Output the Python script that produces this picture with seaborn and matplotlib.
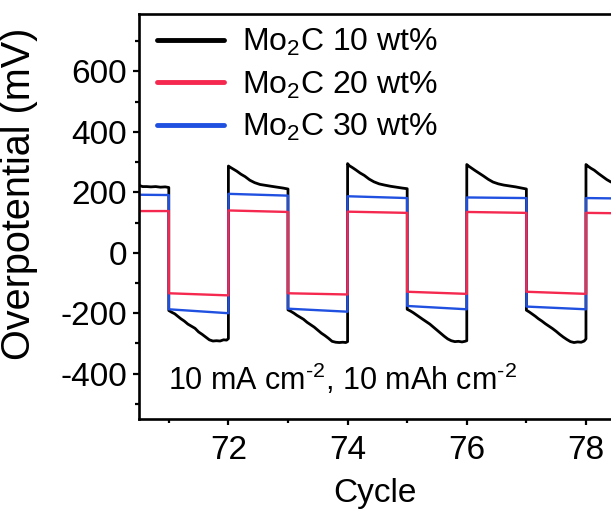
import matplotlib
matplotlib.use("Agg")
import matplotlib.pyplot as plt
import seaborn as sns
import pandas as pd

# ---------------- data ----------------
black_x = [70.50, 70.56, 70.63, 70.70, 70.78, 70.86, 70.94, 71.00,
           71.00, 71.05, 71.10, 71.15, 71.20, 71.26, 71.32, 71.38, 71.44, 71.50, 71.56, 71.62, 71.68, 71.74, 71.80, 71.86, 71.92, 71.97, 72.00,
           72.00, 72.03, 72.08, 72.14, 72.21, 72.28, 72.36, 72.44, 72.53, 72.62, 72.72, 72.82, 72.92, 73.00,
           73.00, 73.05, 73.10, 73.15, 73.20, 73.26, 73.32, 73.38, 73.44, 73.50, 73.56, 73.62, 73.68, 73.74, 73.80, 73.86, 73.92, 73.97, 74.00,
           74.00, 74.03, 74.08, 74.14, 74.21, 74.28, 74.36, 74.44, 74.53, 74.62, 74.72, 74.82, 74.92, 75.00,
           75.00, 75.05, 75.10, 75.15, 75.20, 75.26, 75.32, 75.38, 75.44, 75.50, 75.56, 75.62, 75.68, 75.74, 75.80, 75.86, 75.92, 75.97, 76.00,
           76.00, 76.03, 76.08, 76.14, 76.21, 76.28, 76.36, 76.44, 76.53, 76.62, 76.72, 76.82, 76.92, 77.00,
           77.00, 77.05, 77.10, 77.15, 77.20, 77.26, 77.32, 77.38, 77.44, 77.50, 77.56, 77.62, 77.68, 77.74, 77.80, 77.86, 77.92, 77.97, 78.00,
           78.00, 78.03, 78.08, 78.14, 78.21, 78.28, 78.35, 78.42]
black_y = [223, 219, 219, 218, 219, 217, 218, 216,
           -191, -197, -202, -210, -218, -226, -236, -243, -250, -262, -270, -279, -288, -292, -291, -292, -288, -289, -284,
           287, 283, 277, 270, 260, 252, 240, 232, 226, 223, 220, 217, 214, 211,
           -189, -194, -200, -207, -213, -220, -230, -238, -246, -256, -266, -274, -283, -293, -296, -297, -296, -297, -294,
           295, 288, 282, 274, 264, 256, 244, 235, 228, 224, 220, 217, 214, 212,
           -187, -192, -198, -205, -212, -220, -228, -236, -246, -256, -266, -276, -285, -291, -294, -293, -295, -293, -291,
           292, 287, 280, 272, 263, 254, 243, 234, 228, 224, 221, 218, 214, 211,
           -190, -196, -203, -210, -218, -226, -235, -243, -251, -260, -270, -279, -287, -294, -297, -295, -296, -292, -285,
           292, 287, 280, 273, 262, 252, 242, 234]

step_x = [70.5, 71.0, 71.0, 72.0, 72.0, 73.0, 73.0, 74.0, 74.0, 75.0,
          75.0, 76.0, 76.0, 77.0, 77.0, 78.0, 78.0, 78.42]
blue_y = [192, 191, -187, -200, 195, 189, -185, -195, 187, 181,
          -176, -187, 183, 181, -178, -187, 181, 180]
red_y = [138, 138, -134, -141, 140, 135, -134, -138, 136, 132,
         -129, -136, 135, 132, -129, -136, 132, 131]

labels = ["Mo$_2$C 10 wt%", "Mo$_2$C 20 wt%", "Mo$_2$C 30 wt%"]
colors = ["#000000", "#f5284f", "#2050e0"]
x_ticks = [72, 74, 76, 78]
y_ticks = [-400, -200, 0, 200, 400, 600]

# ---------------- style ----------------
sns.set_theme(style="ticks")
plt.rcParams["font.family"] = ["Liberation Sans", "DejaVu Sans"]
plt.rcParams["mathtext.fontset"] = "custom"
plt.rcParams["mathtext.rm"] = "Liberation Sans"
plt.rcParams["mathtext.it"] = "Liberation Sans:italic"
plt.rcParams["axes.unicode_minus"] = False
plt.rcParams["text.color"] = "black"
plt.rcParams["axes.labelcolor"] = "black"
plt.rcParams["xtick.color"] = "black"
plt.rcParams["ytick.color"] = "black"

fig = plt.figure(figsize=(6.11, 5.14), dpi=100)
ax = fig.add_axes([139 / 611, 95 / 514, 1 - 139 / 611, (419 - 14) / 514])

df_k = pd.DataFrame({"x": black_x, "y": black_y})
df_b = pd.DataFrame({"x": step_x, "y": blue_y})
df_r = pd.DataFrame({"x": step_x, "y": red_y})

sns.lineplot(data=df_k, x="x", y="y", sort=False, estimator=None, color=colors[0],
             lw=2.0, ax=ax, label=labels[0])
sns.lineplot(data=df_b, x="x", y="y", sort=False, estimator=None, color=colors[2],
             lw=1.7, ax=ax, label=labels[2])
sns.lineplot(data=df_r, x="x", y="y", sort=False, estimator=None, color=colors[1],
             lw=1.7, ax=ax, label=labels[1])

ax.set_xlim(70.5, 78.42)
ax.set_ylim(-550, 790)
ax.set_xticks(x_ticks)
ax.set_xticklabels([str(t) for t in x_ticks])
ax.set_yticks(y_ticks)
ax.set_yticklabels([str(t) for t in y_ticks])
ax.set_xticks([71, 73, 75, 77], minor=True)
ax.set_yticks([-500, -300, -100, 100, 300, 500, 700], minor=True)

for s in ["left", "bottom", "top"]:
    ax.spines[s].set_linewidth(1.9)
    ax.spines[s].set_color("black")
ax.spines["right"].set_visible(False)

ax.tick_params(which="major", direction="out", length=4.5, width=1.6,
               labelsize=24, color="black", labelcolor="black", pad=4)
ax.tick_params(which="minor", direction="out", length=3.2, width=1.6, color="black")
ax.tick_params(axis="x", which="major", pad=7)

ax.set_xlabel("Cycle", fontsize=24, labelpad=9, color="black")
ax.set_ylabel("Overpotential (mV)", fontsize=28.5, color="black")
ax.yaxis.set_label_coords(-0.213, 0.556)

h, l = ax.get_legend_handles_labels()
order = [0, 2, 1]
leg = ax.legend([h[i] for i in order], [l[i] for i in order],
                loc="upper left", bbox_to_anchor=(157 / 611, 1 - 27 / 514),
                bbox_transform=fig.transFigure, frameon=False, fontsize=23,
                handlelength=2.1, handletextpad=0.55, labelspacing=0.36,
                borderpad=0, borderaxespad=0)
for line in leg.get_lines():
    line.set_linewidth(3.5)
for t in leg.get_texts():
    t.set_color("black")

fig.text(168 / 611, 1 - 390 / 514, r"10 mA cm$^{\text{-}2}$, 10 mAh cm$^{\text{-}2}$",
         fontsize=22, va="baseline", ha="left", color="black")

fig.savefig("out.png", dpi=100, facecolor="white")
